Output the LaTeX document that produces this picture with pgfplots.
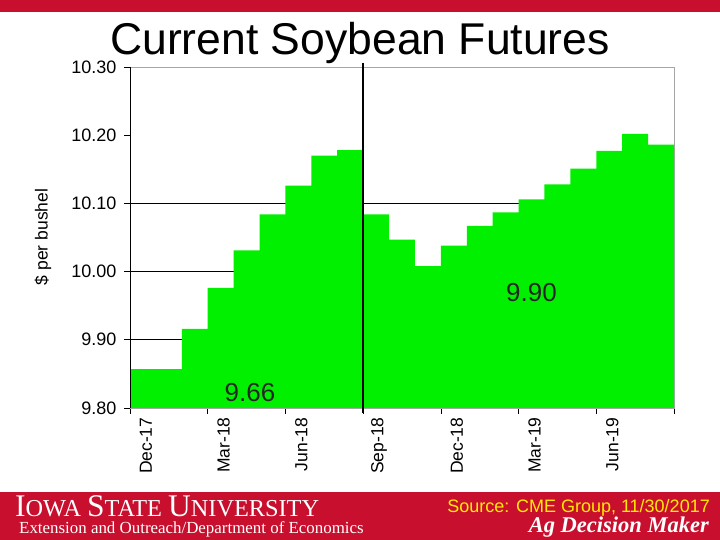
\documentclass[border=0pt]{standalone}
\usepackage{fontspec}
\setmainfont{Liberation Sans}
\newfontfamily\serif{Liberation Serif}
\usepackage{pgfplots}
\pgfplotsset{compat=1.18}
\definecolor{isured}{RGB}{200,16,46}
\definecolor{bargreen}{RGB}{0,240,0}
\definecolor{srcyellow}{RGB}{255,235,0}
\begin{document}
\begin{tikzpicture}[x=1pt,y=1pt]
\fill[white] (0,0) rectangle (720,540);
\useasboundingbox (0,0) rectangle (720,540);
\fill[isured] (0,528) rectangle (720,540);
\fill[isured] (0,0) rectangle (720,48);
\begin{axis}[
  at={(130pt,132pt)}, anchor=south west,
  scale only axis, width=544pt, height=341pt,
  xmin=0, xmax=21, ymin=9.8, ymax=10.3,
  clip mode=individual,
  axis line style={draw=gray!70, line width=0.6pt},
  tick align=outside,
  xtick pos=lower, ytick pos=left,
  major tick length=6pt,
  tick style={black, line width=0.7pt},
  ytick={9.8,9.9,10.0,10.1,10.2,10.3},
  yticklabel style={font=\fontsize{18}{20}\selectfont, xshift=-4pt},
  /pgf/number format/.cd, fixed, fixed zerofill, precision=2, assume math mode=true,
  /pgfplots/.cd,
  extra y ticks={9.9,10.0,10.1},
  extra y tick labels={},
  extra y tick style={grid=major, tick style={draw=none}},
  grid style={black, line width=0.8pt},
  xtick={0,3,6,9,12,15,18,21},
  xticklabels={},
  extra x ticks={0.5,3.5,6.5,9.5,12.5,15.5,18.5},
  extra x tick labels={Dec-17,Mar-18,Jun-18,Sep-18,Dec-18,Mar-19,Jun-19},
  extra x tick style={tick style={draw=none}},
  xticklabel style={rotate=90, anchor=east, yshift=-3pt, font=\fontsize{17.5}{19}\selectfont},
]
\addplot[const plot, fill=bargreen, draw=none] coordinates {
 (0,9.857) (2,9.916) (3,9.976) (4,10.031) (5,10.084) (6,10.126)
 (7,10.170) (8,10.178) (9,10.084) (10,10.047) (11,10.008) (12,10.038)
 (13,10.067) (14,10.087) (15,10.106) (16,10.128) (17,10.151) (18,10.177)
 (19,10.202) (20,10.186) (21,10.186)} \closedcycle;
\draw[black, line width=0.9pt] (rel axis cs:0,0) -- (rel axis cs:0,1);
\draw[black, line width=2.7pt] ([yshift=-5pt]axis cs:9,9.8) -- ([yshift=4pt]axis cs:9,10.3);
\node[font=\fontsize{26}{28}\selectfont, text=black!85] at (axis cs:4.63,9.822) {9.66};
\node[font=\fontsize{26}{28}\selectfont, text=black!85] at (axis cs:15.5,9.970) {9.90};
\end{axis}
\node[anchor=base, font=\fontsize{44.5}{46}\selectfont] at (360,485) {Current Soybean Futures};
\node[rotate=90, font=\fontsize{17.5}{19}\selectfont] at (43,303) {\$ per bushel};
\node[anchor=base west, inner sep=0pt, text=white] at (15,23) {\serif\fontsize{31.5}{32}\selectfont I\fontsize{24.3}{25}\selectfont OWA \fontsize{31.5}{32}\selectfont S\fontsize{24.3}{25}\selectfont TATE \fontsize{31.5}{32}\selectfont U\fontsize{24.3}{25}\selectfont NIVERSITY};
\node[anchor=base west, inner sep=0pt, text=white] at (19,6) {\serif\fontsize{16.9}{18}\selectfont Extension and Outreach/Department of Economics};
\node[anchor=base east, inner sep=0pt, text=srcyellow] at (710,27) {\fontsize{18}{20}\selectfont Source: CME Group, 11/30/2017};
\node[anchor=base east, inner sep=0pt, text=white] at (709,7) {\serif\bfseries\itshape\fontsize{22.5}{24}\selectfont Ag Decision Maker};
\end{tikzpicture}
\end{document}
